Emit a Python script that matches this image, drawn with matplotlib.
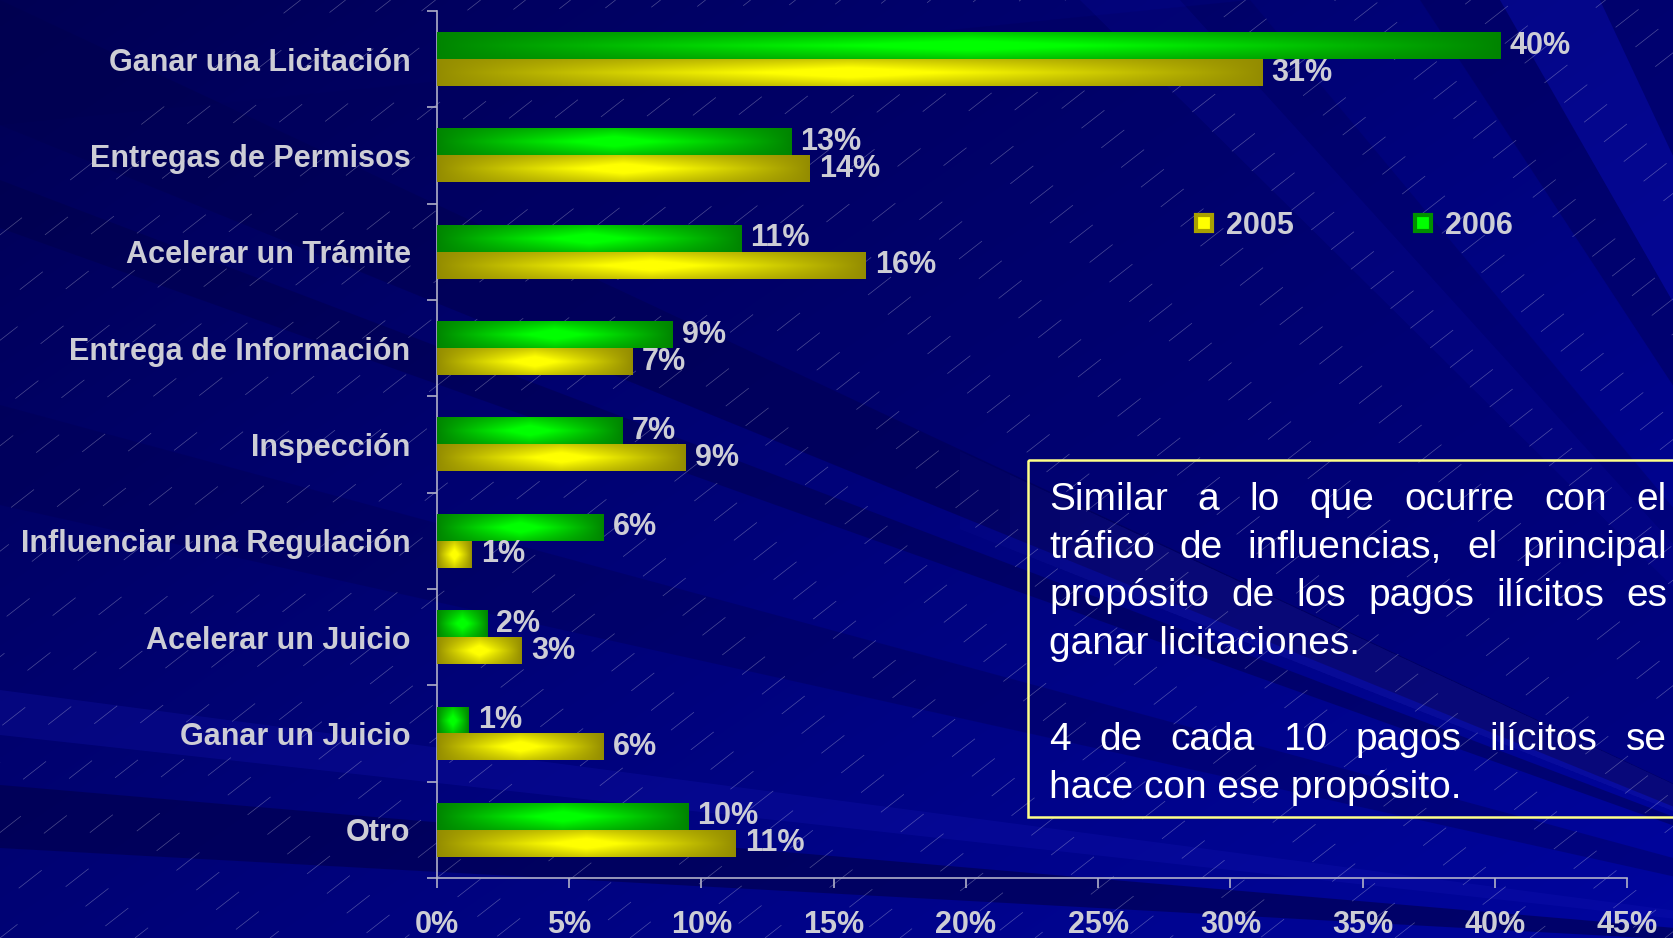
import matplotlib
matplotlib.use("Agg")
import matplotlib.pyplot as plt
import numpy as np
from matplotlib.lines import Line2D
from matplotlib.patches import Polygon, Rectangle

# data (top to bottom)
categories = ["Ganar una Licitación", "Entregas de Permisos", "Acelerar un Trámite",
              "Entrega de Información", "Inspección", "Influenciar una Regulación",
              "Acelerar un Juicio", "Ganar un Juicio", "Otro"]
vals_2006 = [40.2, 13.4, 11.5, 8.9, 7.0, 6.3, 1.9, 1.2, 9.5]
vals_2005 = [31.2, 14.1, 16.2, 7.4, 9.4, 1.3, 3.2, 6.3, 11.3]
labels_2006 = ["40%", "13%", "11%", "9%", "7%", "6%", "2%", "1%", "10%"]
labels_2005 = ["31%", "14%", "16%", "7%", "9%", "1%", "3%", "6%", "11%"]
x_ticks = [0, 5, 10, 15, 20, 25, 30, 35, 40, 45]

note_lines = [
    ("Similar a lo que ocurre con el", True),
    ("tráfico de influencias, el principal", True),
    ("propósito de los pagos ilícitos es", True),
    ("ganar licitaciones.", False),
    ("", False),
    ("4 de cada 10 pagos ilícitos se", True),
    ("hace con ese propósito.", False),
]

W, H = 1674, 938
GRAY = "#cdcdd5"
BOLD = dict(family=["Liberation Sans", "DejaVu Sans"], weight="bold")
FS = 22
plt.rcParams["lines.scale_dashes"] = False

fig = plt.figure(figsize=(W / 100, H / 100), dpi=100)

# ---- background: navy with rays and faint diagonal dashes
bg = fig.add_axes([0, 0, 1, 1])
bg.set_xlim(0, W)
bg.set_ylim(H, 0)
bg.axis("off")
yy, xx = np.mgrid[0:H:4, 0:W:4]
t = np.clip(xx / W * 0.55 + yy / H * 0.45, 0, 1)
c0 = np.array([0.0, 0.0, 0.33])
c1 = np.array([0.0, 0.02, 0.62])
bg.imshow(c0 + (c1 - c0) * t[..., None], extent=(0, W, H, 0), aspect="auto",
          interpolation="bilinear", zorder=0)

focus = np.array([2050, 960])
rays = [
    ((0, 0), (0, 125), "#00004e", 0.55),
    ((0, 125), (1250, 0), "#00005a", 0.35),
    ((0, 180), (0, 228), "#000048", 0.45),
    ((0, 405), (0, 505), "#000050", 0.35),
    ((0, 690), (0, 735), "#1515b5", 0.25),
    ((0, 785), (0, 848), "#00004a", 0.6),
    ((1420, 0), (1500, 0), "#00005a", 0.5),
    ((1500, 0), (1600, 0), "#1010b0", 0.3),
    ((1600, 0), (1674, 0), "#00005a", 0.4),
    ((1080, 0), (1180, 0), "#0c0ca8", 0.2),
]
for p1, p2, col, a in rays:
    bg.add_patch(Polygon([focus, p1, p2], closed=True, facecolor=col,
                         edgecolor="none", alpha=a, zorder=1))

# soft light streak under the note box (fades in from the left)
for start in [960, 1010, 1060, 1110]:
    p1 = np.array([1000, 470])
    p2 = np.array([1000, 545])
    f1 = (start - focus[0]) / (p1[0] - focus[0])
    q1 = focus + (p1 - focus) * f1
    q2 = focus + (p2 - focus) * f1
    bg.add_patch(Polygon([focus, q1, q2], closed=True, facecolor="#3030c8",
                         edgecolor="none", alpha=0.06, zorder=1))

ang = np.deg2rad(38)
for i, c in enumerate(range(-900, W + 200, 45)):
    x0, y0 = c, H
    x1, y1 = c + H / np.tan(ang), 0
    ln = Line2D([x0, x1], [y0, y1], color="white", lw=0.5, alpha=0.3, zorder=2,
                linestyle=((i * 23) % 65, (21, 44)))
    bg.add_line(ln)

# ---- main bar chart
ax = fig.add_axes([437 / W, 1 - 878 / H, 1190 / W, 867 / H])
ax.set_facecolor("none")
y = np.arange(len(categories))
h = 0.28
bars06 = ax.barh(y - h / 2, vals_2006, height=h, color="#00aa00", zorder=2)
bars05 = ax.barh(y + h / 2, vals_2005, height=h, color="#cccc00", zorder=2)


def shade(bar, dark, bright):
    x0, y0 = bar.get_x(), bar.get_y()
    w, hh = bar.get_width(), bar.get_height()
    u = np.linspace(0, 1, 160)[None, :]
    v = np.linspace(0, 1, 24)[:, None]
    hx = 1 - np.abs(2 * u - 1)
    vy = 1 - np.abs(2 * v - 1)
    k = np.clip(hx ** 0.9 * (0.45 + 0.55 * vy) * 1.25, 0, 1)
    img = np.array(dark) + (np.array(bright) - np.array(dark)) * k[..., None]
    ax.imshow(img, extent=(x0, x0 + w, y0 + hh, y0), aspect="auto",
              interpolation="bilinear", zorder=3)


for b in bars06:
    shade(b, (0, 0.52, 0), (0, 1, 0))
for b in bars05:
    shade(b, (0.58, 0.55, 0), (1, 1, 0))

for b, lab in zip(bars06, labels_2006):
    ax.text(b.get_width() + 0.35, b.get_y() + b.get_height() / 2, lab, color=GRAY,
            fontsize=FS, va="center", ha="left", zorder=4, **BOLD)
for b, lab in zip(bars05, labels_2005):
    ax.text(b.get_width() + 0.35, b.get_y() + b.get_height() / 2, lab, color=GRAY,
            fontsize=FS, va="center", ha="left", zorder=4, **BOLD)

ax.set_xlim(0, 45)
ax.set_ylim(len(categories) - 0.5, -0.5)
ax.set_xticks(x_ticks)
ax.set_xticklabels([f"{v}%" for v in x_ticks])
ax.set_yticks(np.arange(len(categories) + 1) - 0.5)
ax.set_yticklabels([])
ax.set_yticks(y, minor=True)
ax.set_yticklabels(categories, minor=True)
ax.tick_params(axis="y", which="minor", length=0, pad=19, labelcolor=GRAY, labelsize=FS)
ax.tick_params(axis="y", which="major", length=7, width=1.2, color="#b0b0c8")
ax.tick_params(axis="x", length=7, width=1.2, color="#b0b0c8", pad=16,
               labelcolor=GRAY, labelsize=FS)
for lab in ax.get_xticklabels() + ax.get_yticklabels(minor=True):
    lab.set_fontfamily(BOLD["family"])
    lab.set_fontweight("bold")
for s in ["top", "right"]:
    ax.spines[s].set_visible(False)
for s in ["left", "bottom"]:
    ax.spines[s].set_color("#b0b0c8")
    ax.spines[s].set_linewidth(1.2)

handles = [
    Line2D([], [], marker="s", linestyle="None", markersize=11, markerfacecolor="#ffff00",
           markeredgecolor="#a8a000", markeredgewidth=3, label="2005"),
    Line2D([], [], marker="s", linestyle="None", markersize=11, markerfacecolor="#00ff00",
           markeredgecolor="#009000", markeredgewidth=3, label="2006"),
]
fig.legend(handles=handles, loc="center left", bbox_to_anchor=(1192 / W, 1 - 226 / H),
           ncol=2, frameon=False, handlelength=0.8, handletextpad=0.3,
           columnspacing=3.85, borderpad=0, borderaxespad=0,
           prop=dict(family=BOLD["family"], weight="bold", size=FS), labelcolor=GRAY)

# ---- note box with justified text
bg.add_patch(Rectangle((1028, 460), 700, 357, facecolor="none", edgecolor="#ffff88",
                       lw=1.8, zorder=5))
NOTE = dict(family=["Liberation Sans Narrow", "Liberation Sans"], size=28, color="white")
renderer = fig.canvas.get_renderer()
x_left, x_right = 1049, 1667
baseline = 510
for line, just in note_lines:
    if line and just:
        words = line.split()
        texts = [bg.text(0, baseline, wd, va="baseline", ha="left", zorder=6, **NOTE)
                 for wd in words]
        widths = [tx.get_window_extent(renderer).width for tx in texts]
        gap = (x_right - x_left - sum(widths)) / (len(words) - 1)
        xpos = x_left
        for tx, wd in zip(texts, widths):
            tx.set_x(xpos)
            xpos += wd + gap
    elif line:
        bg.text(x_left, baseline, line, va="baseline", ha="left", zorder=6, **NOTE)
    baseline += 48

fig.savefig("out.png", dpi=100)
